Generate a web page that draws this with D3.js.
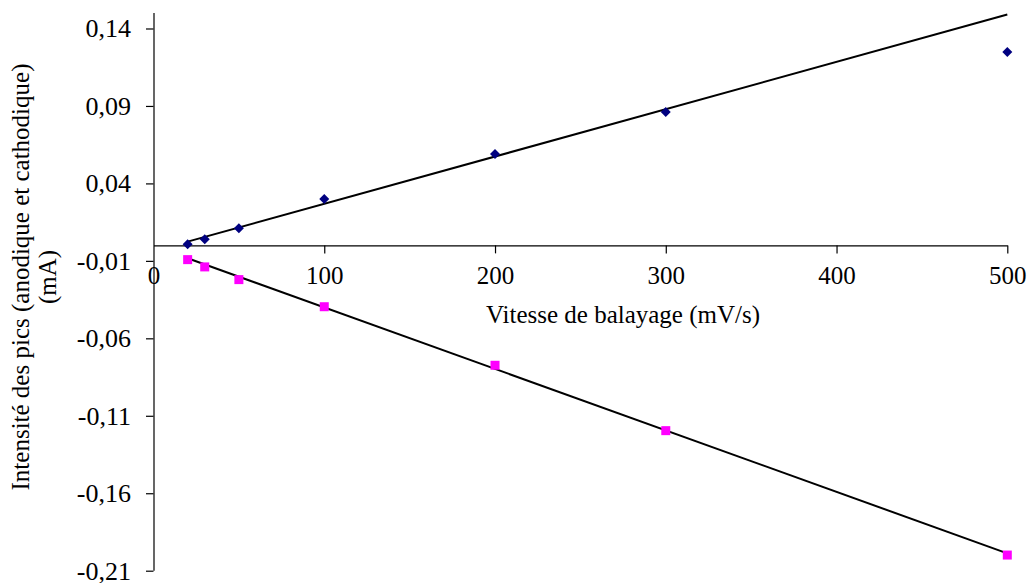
<html>
<head>
<meta charset="utf-8">
<script src="https://cdn.jsdelivr.net/npm/d3@7"></script>
<style>
@font-face { font-family: "ChartSerif"; src: local("Liberation Serif"), local("LiberationSerif"), local("Tinos"), local("Nimbus Roman"), local("FreeSerif"); }
#chart text { font-family: "Liberation Serif", "Tinos", "Nimbus Roman", "FreeSerif", "ChartSerif", "Times New Roman" !important; }
</style>
</head>
<body style="margin:0">
<svg id="chart" width="1029" height="583"></svg>
<script>
// ---- data ----
const scanRates = [20, 30, 50, 100, 200, 300, 500];           // mV/s
const anodic = [0.0007, 0.0039, 0.0110, 0.0300, 0.0590, 0.0861, 0.1249];   // mA
const cathodic = [-0.0092, -0.0139, -0.0221, -0.0396, -0.0774, -0.1196, -0.1999]; // mA
const trendAnodic = [[20, 0.0024], [500, 0.1490]];
const trendCathodic = [[20, -0.0083], [500, -0.1988]];
const xTicks = [0, 100, 200, 300, 400, 500];
const xTickLabels = ["0", "100", "200", "300", "400", "500"];
const yTicks = [0.14, 0.09, 0.04, -0.01, -0.06, -0.11, -0.16, -0.21];
const yTickLabels = ["0,14", "0,09", "0,04", "-0,01", "-0,06", "-0,11", "-0,16", "-0,21"];
const xTitle = "Vitesse de balayage (mV/s)";
const yTitleLines = ["Intensité des pics (anodique et cathodique)", "(mA)"];

const FONT = "Liberation Serif";

// ---- layout ----
const svg = d3.select("#chart");
const x = d3.scaleLinear().domain([0, 500]).range([153.5, 1007.3]);
const y = d3.scaleLinear().domain([-0.21, 0.15]).range([570.7, 13]);

function styleText(sel, size) {
  sel.attr("font-family", FONT).attr("font-size", size).attr("fill", "#000");
}

// y axis
const yAxis = d3.axisLeft(y)
  .tickValues(yTicks)
  .tickFormat((d, i) => yTickLabels[i])
  .tickSize(7.5)
  .tickPadding(15)
  .tickSizeOuter(0);
const gy = svg.append("g").attr("transform", `translate(${x(0)},0)`).call(yAxis);
gy.attr("font-family", FONT).attr("font-size", 26);
gy.select(".domain").attr("stroke", "#000").attr("stroke-width", 1.2)
  .attr("d", `M0.5,${y(0.15)}V${y(-0.21)}`);
gy.selectAll(".tick line").attr("stroke", "#000").attr("stroke-width", 1.2);
styleText(gy.selectAll(".tick text"), 26);

// x axis at y=0
const xAxis = d3.axisBottom(x)
  .tickValues(xTicks)
  .tickFormat((d, i) => xTickLabels[i])
  .tickSize(8)
  .tickPadding(12.5)
  .tickSizeOuter(0);
const gx = svg.append("g").attr("transform", `translate(0,${y(0)})`).call(xAxis);
gx.attr("font-family", FONT).attr("font-size", 25);
gx.select(".domain").attr("stroke", "#000").attr("stroke-width", 1.2);
gx.selectAll(".tick line").attr("stroke", "#000").attr("stroke-width", 1.2)
  .attr("opacity", d => d === 0 ? 0 : 1);
styleText(gx.selectAll(".tick text"), 25);

// trend lines
const line = d3.line().x(d => x(d[0])).y(d => y(d[1]));
[trendAnodic, trendCathodic].forEach(t => {
  svg.append("path").attr("d", line(t)).attr("fill", "none")
    .attr("stroke", "#000").attr("stroke-width", 2);
});

// markers
svg.append("g").selectAll("path").data(scanRates.map((s, i) => [s, anodic[i]]))
  .join("path")
  .attr("d", d3.symbol().type(d3.symbolSquare).size(50)())
  .attr("transform", d => `translate(${x(d[0])},${y(d[1])}) rotate(45)`)
  .attr("fill", "#000080");
svg.append("g").selectAll("rect").data(scanRates.map((s, i) => [s, cathodic[i]]))
  .join("rect")
  .attr("x", d => x(d[0]) - 4.5).attr("y", d => y(d[1]) - 4.5)
  .attr("width", 9).attr("height", 9)
  .attr("fill", "#ff00ff");

// titles
svg.append("text").attr("x", 623).attr("y", 323).attr("text-anchor", "middle")
  .call(styleText, 25)
  .text(xTitle);
const yt = svg.append("text").attr("transform", "translate(29,277) rotate(-90)")
  .attr("text-anchor", "middle").call(styleText, 25);
yt.append("tspan").attr("x", 0).attr("dy", 0).text(yTitleLines[0]);
yt.append("tspan").attr("x", 0).attr("dy", 27).text(yTitleLines[1]);
</script>
</body>
</html>
